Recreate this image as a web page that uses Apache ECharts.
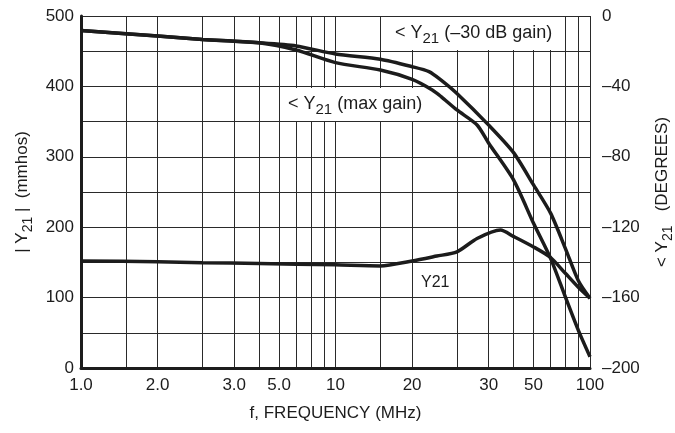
<!DOCTYPE html>
<html>
<head>
<meta charset="utf-8">
<script src="https://cdn.jsdelivr.net/npm/echarts@6/dist/echarts.min.js"></script>
<style>
  html, body { margin: 0; padding: 0; background: #fff; }
  #chart { width: 675px; height: 433px; }
</style>
</head>
<body>
<div id="chart"></div>
<script>
// semi-log paper: grid lines in MHz
var gridFreq = [1, 1.5, 2, 3, 4, 5, 6, 7, 8, 9, 10, 15, 20, 30, 40, 50, 60, 70, 80, 90, 100];
// printed labels sit on these lines (as in the datasheet)
var xLabelPos = [1, 2, 4, 6, 10, 20, 40, 60, 100];
var xLabelText = ['1.0', '2.0', '3.0', '5.0', '10', '20', '30', '50', '100'];

// |Y21| (mmhos), left axis
var magFreq = [1, 2, 3, 5, 10, 15, 20, 25, 30, 36, 44.5, 50, 60, 70, 80, 90, 100];
var magY21 = [152, 151, 149.5, 148.5, 146.5, 145, 152, 159, 165, 184, 196, 187, 172, 157, 134.5, 114.6, 99];

// <Y21 at -30 dB gain (degrees), right axis
var phaseLowFreq = [1, 2, 3, 5, 7, 10, 15, 20, 23.3, 26, 30, 40, 50, 60, 70, 80, 90, 100];
var phaseLow = [-8.3, -11.4, -13.3, -15.2, -17, -21.6, -24.6, -28.8, -31.6, -36.4, -44, -62, -77.5, -96, -112, -132, -150.4, -160.4];

// <Y21 at max gain (degrees), right axis
var phaseMaxFreq = [1, 2, 3, 5, 7, 10, 15, 20, 24, 26, 30, 36, 40, 50, 60, 70, 80, 90, 100];
var phaseMax = [-8.3, -11.4, -13.3, -15.2, -19.3, -26.5, -30.7, -36, -42, -45.8, -53.4, -61.9, -72.3, -93, -117.8, -137.7, -159.6, -178.6, -193.6];

var FONT = '"Liberation Sans", Arial, Helvetica, sans-serif';
var FS = 17;
var INK = '#1c1c1c';

function pairs(xs, ys) {
  return xs.map(function (x, i) { return [x, ys[i]]; });
}

var subRich = {
  s: { fontFamily: FONT, fontSize: 14, lineHeight: 13, verticalAlign: 'bottom', color: INK }
};
var noteRich = {
  s: { fontFamily: FONT, fontSize: 15, lineHeight: 14, verticalAlign: 'bottom', color: INK }
};

var chart = echarts.init(document.getElementById('chart'));

var option = {
  animation: false,
  backgroundColor: '#fff',
  textStyle: { fontFamily: FONT, color: INK },
  grid: { left: 81, right: 85, top: 16, bottom: 65, containLabel: false, outerBoundsMode: 'none' },
  xAxis: {
    type: 'log',
    logBase: 10,
    min: 1,
    max: 100,
    name: 'f, FREQUENCY (MHz)',
    nameLocation: 'middle',
    nameGap: 37,
    nameTextStyle: { fontFamily: FONT, fontSize: FS, color: INK },
    axisLine: { show: true, onZero: false, lineStyle: { color: INK, width: 3 } },
    axisTick: { show: false, customValues: gridFreq },
    minorTick: { show: false },
    splitLine: { show: true, lineStyle: { color: '#2a2a2a', width: 1 } },
    axisLabel: {
      customValues: xLabelPos,
      margin: 9,
      fontFamily: FONT,
      fontSize: FS,
      color: INK,
      formatter: function (v) {
        for (var i = 0; i < xLabelPos.length; i++) {
          if (Math.abs(Math.log10(xLabelPos[i]) - Math.log10(v)) < 0.01) return xLabelText[i];
        }
        return '';
      }
    }
  },
  yAxis: [
    {
      type: 'value',
      min: 0,
      max: 500,
      interval: 50,
      name: '| Y{s|21} |  (mmhos)',
      nameLocation: 'middle',
      nameGap: 42,
      nameTextStyle: { fontFamily: FONT, fontSize: FS, lineHeight: 24, color: INK, rich: subRich },
      axisLine: { show: true, lineStyle: { color: INK, width: 3 } },
      axisTick: { show: false },
      splitLine: { show: true, lineStyle: { color: '#2a2a2a', width: 1 } },
      axisLabel: {
        margin: 7,
        fontFamily: FONT,
        fontSize: FS,
        color: INK,
        formatter: function (v) { return v % 100 === 0 ? String(v) : ''; }
      }
    },
    {
      type: 'value',
      position: 'right',
      min: -200,
      max: 0,
      interval: 20,
      name: '< Y{s|21}   (DEGREES)',
      nameLocation: 'middle',
      nameGap: 56,
      nameTextStyle: { fontFamily: FONT, fontSize: FS, lineHeight: 24, color: INK, rich: subRich },
      axisLine: { show: false },
      axisTick: { show: false },
      splitLine: { show: false },
      axisLabel: {
        margin: 12,
        fontFamily: FONT,
        fontSize: FS,
        color: INK,
        formatter: function (v) {
          if (v % 40 !== 0) return '';
          return v < 0 ? '\u2013' + (-v) : String(v);
        }
      }
    }
  ],
  graphic: [
    { type: 'rect', z: 1, shape: { x: 391, y: 17, width: 170, height: 33 }, style: { fill: '#fff' } },
    { type: 'rect', z: 1, shape: { x: 284, y: 88, width: 143, height: 33 }, style: { fill: '#fff' } },
    {
      type: 'text', z: 3, left: 395, top: 21,
      style: { text: '< Y{s|21} (\u201330 dB gain)', font: '18px ' + FONT, lineHeight: 25, fill: INK, rich: noteRich }
    },
    {
      type: 'text', z: 3, left: 288, top: 92,
      style: { text: '< Y{s|21} (max gain)', font: '18px ' + FONT, lineHeight: 25, fill: INK, rich: noteRich }
    },
    {
      type: 'text', z: 3, left: 421, top: 275,
      style: { text: 'Y21', font: '16px ' + FONT, fill: INK }
    }
  ],
  series: [
    {
      name: '|Y21|',
      type: 'line',
      yAxisIndex: 0,
      data: pairs(magFreq, magY21),
      showSymbol: false,
      smooth: 0.25,
      lineStyle: { color: INK, width: 3.5 },
      z: 4
    },
    {
      name: '<Y21 (-30 dB gain)',
      type: 'line',
      yAxisIndex: 1,
      data: pairs(phaseLowFreq, phaseLow),
      showSymbol: false,
      smooth: 0.25,
      lineStyle: { color: INK, width: 3.5 },
      z: 4
    },
    {
      name: '<Y21 (max gain)',
      type: 'line',
      yAxisIndex: 1,
      data: pairs(phaseMaxFreq, phaseMax),
      showSymbol: false,
      smooth: 0.25,
      lineStyle: { color: INK, width: 3.5 },
      z: 4
    }
  ]
};

chart.setOption(option);
window.addEventListener('resize', function () { chart.resize(); });
</script>
</body>
</html>
